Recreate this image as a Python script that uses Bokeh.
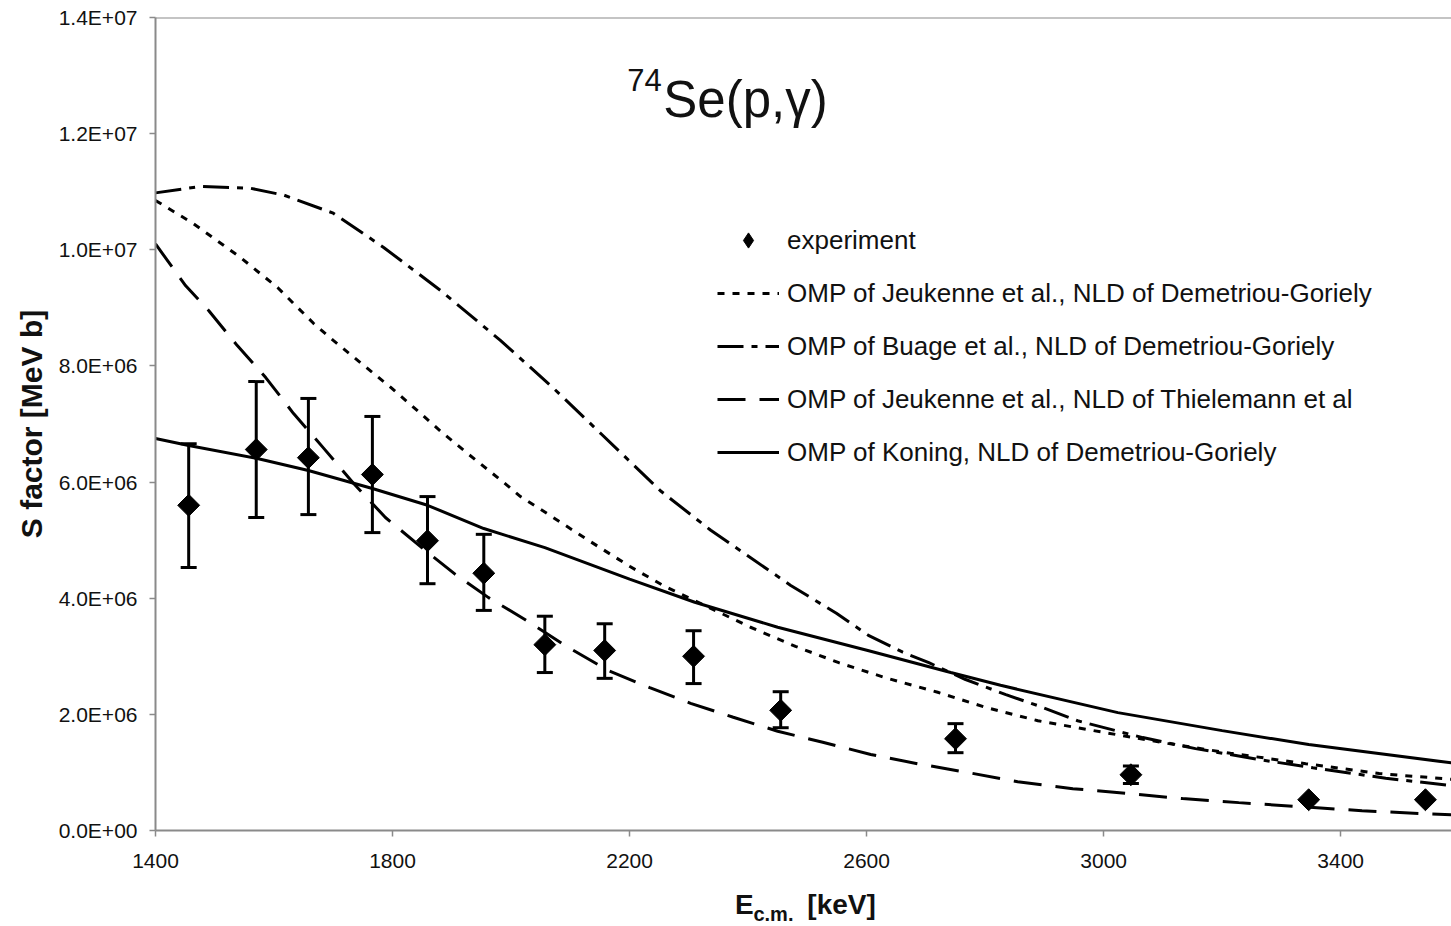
import numpy as np
from bokeh.plotting import figure
from bokeh.layouts import column
from bokeh.models import (ColumnDataSource, Whisker, TeeHead, Legend, LegendItem,
                          Label, Span, FixedTicker, Range1d)
from bokeh.core.properties import value
from bokeh.embed import file_html
from bokeh.resources import INLINE

# ---------------- data ----------------
E_exp = [1456, 1570, 1658, 1766, 1859, 1954, 2057, 2158, 2308, 2455, 2750, 3046, 3346, 3543]
S_exp = [5.60e6, 6.56e6, 6.42e6, 6.13e6, 4.99e6, 4.43e6, 3.20e6, 3.10e6, 3.00e6, 2.07e6,
         1.58e6, 0.96e6, 0.53e6, 0.53e6]
S_upper = [6.66e6, 7.73e6, 7.44e6, 7.13e6, 5.75e6, 5.10e6, 3.69e6, 3.56e6, 3.44e6, 2.39e6,
           1.84e6, 1.11e6]
S_lower = [4.53e6, 5.39e6, 5.44e6, 5.13e6, 4.25e6, 3.79e6, 2.72e6, 2.62e6, 2.53e6, 1.77e6,
           1.34e6, 0.81e6]

# OMP of Jeukenne et al., NLD of Demetriou-Goriely (short dashes)
E_jeu_dg = [1400, 1464, 1543, 1606, 1667, 1700, 1797, 1842, 1884, 1927, 1960, 1994, 2016,
            2050, 2130, 2200, 2260, 2328, 2404, 2480, 2553, 2635, 2720, 2801, 2889, 2983,
            3108, 3214, 3341, 3465, 3590]
S_jeu_dg = [10.85e6, 10.45e6, 9.87e6, 9.35e6, 8.73e6, 8.44e6, 7.63e6, 7.23e6, 6.85e6, 6.49e6,
            6.22e6, 5.94e6, 5.75e6, 5.53e6, 5.00e6, 4.55e6, 4.20e6, 3.87e6, 3.50e6, 3.17e6,
            2.89e6, 2.62e6, 2.38e6, 2.12e6, 1.89e6, 1.72e6, 1.50e6, 1.33e6, 1.15e6, 0.98e6,
            0.88e6]

# OMP of Buage et al., NLD of Demetriou-Goriely (dash-dot)
E_bua_dg = [1400, 1476, 1560, 1617, 1700, 1785, 1881, 1982, 2067, 2151, 2252, 2337, 2472,
            2549, 2603, 2661, 2705, 2767, 2835, 2889, 2956, 3066, 3155, 3270, 3353, 3476, 3590]
S_bua_dg = [10.98e6, 11.09e6, 11.06e6, 10.94e6, 10.63e6, 10.04e6, 9.30e6, 8.44e6, 7.66e6,
            6.84e6, 5.85e6, 5.17e6, 4.22e6, 3.74e6, 3.36e6, 3.07e6, 2.89e6, 2.60e6, 2.34e6,
            2.15e6, 1.89e6, 1.60e6, 1.41e6, 1.21e6, 1.08e6, 0.90e6, 0.77e6]

# OMP of Jeukenne et al., NLD of Thielemann et al (long dashes)
E_jeu_th = [1400, 1451, 1490, 1538, 1586, 1633, 1684, 1734, 1788, 1852, 1906, 1962, 2024,
            2097, 2163, 2234, 2303, 2375, 2450, 2526, 2607, 2686, 2770, 2855, 2948, 3037,
            3133, 3228, 3333, 3436, 3539, 3590]
S_jeu_th = [10.1e6, 9.38e6, 8.95e6, 8.35e6, 7.80e6, 7.18e6, 6.58e6, 5.98e6, 5.39e6, 4.85e6,
            4.41e6, 4.01e6, 3.63e6, 3.15e6, 2.76e6, 2.46e6, 2.19e6, 1.95e6, 1.71e6, 1.52e6,
            1.31e6, 1.15e6, 1.00e6, 0.84e6, 0.72e6, 0.64e6, 0.55e6, 0.48e6, 0.41e6, 0.34e6,
            0.29e6, 0.27e6]

# OMP of Koning, NLD of Demetriou-Goriely (solid)
E_kon_dg = [1400, 1456, 1570, 1658, 1766, 1859, 1954, 2057, 2200, 2310, 2450, 2602, 2742,
            2826, 3024, 3200, 3346, 3590]
S_kon_dg = [6.75e6, 6.63e6, 6.41e6, 6.20e6, 5.89e6, 5.60e6, 5.20e6, 4.87e6, 4.33e6, 3.93e6,
            3.50e6, 3.10e6, 2.72e6, 2.50e6, 2.03e6, 1.72e6, 1.48e6, 1.16e6]

series_labels = ["experiment",
                 "OMP of Jeukenne et al., NLD of Demetriou-Goriely",
                 "OMP of Buage et al., NLD of Demetriou-Goriely",
                 "OMP of Jeukenne et al., NLD of Thielemann et al",
                 "OMP of Koning, NLD of Demetriou-Goriely"]

x_ticks = [1400, 1800, 2200, 2600, 3000, 3400]
y_ticks = [0, 2e6, 4e6, 6e6, 8e6, 10e6, 12e6, 14e6]
y_tick_labels = ["0.0E+00", "2.0E+06", "4.0E+06", "6.0E+06", "8.0E+06",
                 "1.0E+07", "1.2E+07", "1.4E+07"]

# ---------------- figure ----------------
FONT = "Liberation Sans"
GRAY = "#8a8a8a"
INK = "#111111"

p = figure(width=1451, height=880, output_backend="svg", toolbar_location=None, title=None,
           x_range=Range1d(1400, 3587), y_range=Range1d(0, 1.4e7),
           min_border_left=155, min_border_right=0, min_border_top=17, min_border_bottom=50)
p.background_fill_color = "white"
p.border_fill_color = "white"
p.outline_line_color = None
p.grid.visible = False

p.xaxis.ticker = FixedTicker(ticks=x_ticks)
p.yaxis.ticker = FixedTicker(ticks=y_ticks)
p.yaxis.major_label_overrides = {t: l for t, l in zip(y_ticks, y_tick_labels)}
for ax in (p.xaxis[0], p.yaxis[0]):
    ax.axis_line_color = GRAY
    ax.axis_line_width = 2
    ax.major_tick_line_color = GRAY
    ax.major_tick_line_width = 1.5
    ax.major_tick_out = 6
    ax.major_tick_in = 0
    ax.minor_tick_line_color = None
    ax.major_label_text_font = FONT
    ax.major_label_text_color = INK
    ax.major_label_text_font_size = "21px"
p.xaxis.major_label_standoff = 17
p.yaxis.major_label_standoff = 12

p.yaxis.axis_label = "S factor [MeV b]"
p.yaxis.axis_label_text_font = FONT
p.yaxis.axis_label_text_font_style = "bold"
p.yaxis.axis_label_text_font_size = "30px"
p.yaxis.axis_label_text_color = INK
p.yaxis.axis_label_standoff = 8

# top frame border
p.add_layout(Span(location=1.4e7, dimension="width", line_color=GRAY, line_width=2))

# theory curves
r_jdg = p.line(E_jeu_dg, S_jeu_dg, line_color="black", line_width=3, line_dash="7 8")
r_bdg = p.line(E_bua_dg, S_bua_dg, line_color="black", line_width=3, line_dash="26 8 6 8")
r_jth = p.line(E_jeu_th, S_jeu_th, line_color="black", line_width=3, line_dash="28 14")
r_kdg = p.line(E_kon_dg, S_kon_dg, line_color="black", line_width=3)

# error bars
n_err = len(S_upper)
err_src = ColumnDataSource(dict(x=E_exp[:n_err], upper=S_upper, lower=S_lower))
p.add_layout(Whisker(source=err_src, base="x", upper="upper", lower="lower",
                     dimension="height", line_color="black", line_width=3,
                     upper_head=TeeHead(size=16, line_width=3, line_color="black"),
                     lower_head=TeeHead(size=16, line_width=3, line_color="black"),
                     level="glyph"))

# experiment points (diamonds)
p.scatter(E_exp, S_exp, marker="square", angle=np.pi / 4, size=15.5,
          fill_color="black", line_color="black")
# legend proxy for the diamond marker (legend glyphs are not rotated)
r_exp_key = p.scatter([np.nan], [np.nan], marker="diamond", size=15,
                      fill_color="black", line_color="black")

legend = Legend(items=[LegendItem(label=series_labels[0], renderers=[r_exp_key]),
                       LegendItem(label=series_labels[1], renderers=[r_jdg]),
                       LegendItem(label=series_labels[2], renderers=[r_bdg]),
                       LegendItem(label=series_labels[3], renderers=[r_jth]),
                       LegendItem(label=series_labels[4], renderers=[r_kdg])],
                location=(562, 359), orientation="vertical",
                border_line_color=None, background_fill_alpha=0,
                padding=0, margin=0, spacing=15,
                glyph_width=62, glyph_height=38, label_height=38,
                label_standoff=8, label_text_font=FONT, label_text_font_size="26px",
                label_text_color=INK, label_text_baseline="middle")
p.add_layout(legend)

# chart title 74Se(p,gamma)
p.add_layout(Label(x=2196, y=12.92e6, text="74", text_font=FONT, text_font_size="31px",
                   text_color=INK, text_align="left", text_baseline="middle"))
p.add_layout(Label(x=2257, y=12.58e6, text="Se(p,γ)", text_font=FONT, text_font_size="51px",
                   text_color=INK, text_align="left", text_baseline="middle"))

# ---------------- x axis title strip (with subscript) ----------------
q = figure(width=1451, height=46, output_backend="svg", toolbar_location=None, title=None,
           x_range=p.x_range, y_range=Range1d(0, 46),
           x_axis_location=None, y_axis_location=None,
           min_border_left=155, min_border_right=0, min_border_top=0, min_border_bottom=0)
q.grid.visible = False
q.outline_line_color = None
q.background_fill_color = "white"
q.border_fill_color = "white"
q.text(x=[2378], y=[22], text=["E"], text_font=value(FONT), text_font_size="28px",
       text_font_style="bold", text_color=INK, text_align="left", text_baseline="middle")
q.text(x=[2409], y=[13], text=["c.m."], text_font=value(FONT), text_font_size="20px",
       text_font_style="bold", text_color=INK, text_align="left", text_baseline="middle")
q.text(x=[2500], y=[22], text=["[keV]"], text_font=value(FONT), text_font_size="28px",
       text_font_style="bold", text_color=INK, text_align="left", text_baseline="middle")

layout = column(p, q, spacing=0)
open("out.html", "w").write(file_html(layout, INLINE))
